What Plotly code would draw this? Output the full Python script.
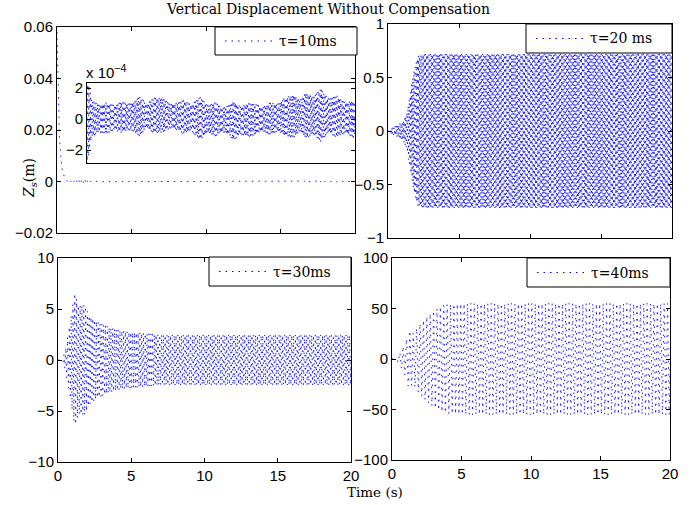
import numpy as np
import plotly.graph_objects as go

W, H = 694, 505

# ---------------- data ----------------
t_end = 20.0
dt = 0.004

# tau = 10 ms : initial decay of Zs (m)
decay10_t = [0.0, 0.05, 0.10, 0.15, 0.20, 0.30, 0.40, 0.50, 0.70, 1.0]
decay10_z = [0.058, 0.040, 0.028, 0.019, 0.013, 0.006, 0.003, 0.0012, 0.0002, 0.0]
# tau = 10 ms : residual oscillation envelope (m)
env10_t = [0.0, 1.9, 2.0, 2.3, 2.8, 3.3, 3.8, 4.3, 4.8, 5.2, 5.5, 6.0, 6.5, 7.1, 7.6, 8.1,
           8.5, 9.0, 9.6, 10.1, 10.6, 11.1, 11.6, 11.8, 12.3, 12.8, 13.3, 13.8, 14.3, 14.8,
           15.3, 15.9, 16.3, 16.7, 17.2, 17.7, 18.2, 18.8, 19.3, 19.9, 20.0]
env10_a = [0.0, 4.0e-4, 3.0e-4, 1.2e-4, 0.9e-4, 1.0e-4, 0.8e-4, 1.0e-4, 0.85e-4, 1.0e-4, 1.3e-4,
           0.8e-4, 1.15e-4, 1.1e-4, 0.8e-4, 0.9e-4, 1.1e-4, 0.85e-4, 1.4e-4, 0.9e-4, 1.1e-4,
           0.8e-4, 1.0e-4, 1.3e-4, 0.9e-4, 1.1e-4, 1.0e-4, 0.8e-4, 1.05e-4, 0.9e-4, 1.25e-4,
           1.4e-4, 1.0e-4, 1.5e-4, 1.2e-4, 1.7e-4, 1.1e-4, 1.35e-4, 1.0e-4, 1.2e-4, 1.0e-4]
off10_t = [0.0, 2.0, 5.0, 7.0, 10.0, 12.0, 14.0, 16.0, 18.0, 20.0]
off10_z = [0.0, 0.0, 0.15e-4, 0.25e-4, 0.0, -0.1e-4, 0.0, 0.2e-4, 0.25e-4, 0.0]
freq10 = 12.3

# tau = 20 ms : oscillation envelope (m)
env20_t = [0.0, 0.3, 1.0, 1.3, 1.5, 1.8, 2.1, 2.5, 20.0]
env20_a = [0.0, 0.03, 0.08, 0.15, 0.30, 0.55, 0.70, 0.72, 0.72]
freq20 = 12.2

# tau = 30 ms : oscillation envelope (m)
env30_t = [0.0, 0.3, 0.5, 0.8, 1.15, 1.4, 1.85, 2.1, 2.7, 3.5, 4.5, 6.0, 7.0, 20.0]
env30_a = [0.0, 0.0, 1.0, 3.5, 6.6, 5.3, 5.4, 4.4, 3.7, 3.2, 2.8, 2.6, 2.45, 2.45]
freq30 = 8.1

# tau = 40 ms : oscillation envelope (m)
env40_t = [0.0, 0.3, 0.5, 1.0, 1.2, 1.5, 2.0, 2.5, 3.0, 3.5, 4.0, 5.0, 20.0]
env40_a = [0.0, 0.0, 5.0, 18.0, 29.0, 25.0, 35.0, 42.0, 48.0, 52.0, 54.0, 55.0, 55.0]
freq40 = 4.1

legend_labels = ["\u03c4=10ms", "\u03c4=20 ms", "\u03c4=30ms", "\u03c4=40ms"]

# ---------------- build series ----------------
t = np.arange(0.0, t_end + dt / 2, dt)
z10 = (np.interp(t, decay10_t, decay10_z) + np.interp(t, off10_t, off10_z)
       + np.interp(t, env10_t, env10_a) * np.sin(2 * np.pi * freq10 * t))
z20 = np.interp(t, env20_t, env20_a) * np.sin(2 * np.pi * freq20 * t)
z30 = np.interp(t, env30_t, env30_a) * np.sin(2 * np.pi * freq30 * t)
z40 = np.interp(t, env40_t, env40_a) * np.sin(2 * np.pi * freq40 * t)


def dom_x(a, b):
    return [a / W, b / W]


def dom_y(top, bot):
    return [1 - bot / H, 1 - top / H]


# panel pixel boxes (left, right, top, bottom)
boxes = {
    1: (57, 355, 27, 233),
    2: (388, 672, 24, 238),
    3: (58, 351, 258, 462),
    4: (392, 670, 258, 460),
    5: (87, 355, 83, 163),
}

BLUE = "#0000ff"
DASH = "1.5px,5px"
line_style = dict(color=BLUE, width=0.9, dash=DASH)

fig = go.Figure()
series = {1: z10, 2: z20, 3: z30, 4: z40, 5: z10}
for k in [1, 2, 3, 4, 5]:
    suffix = "" if k == 1 else str(k)
    fig.add_trace(go.Scatter(x=t, y=series[k], mode="lines", line=line_style,
                             xaxis="x" + suffix, yaxis="y" + suffix,
                             showlegend=False, hoverinfo="skip"))

tickfont = dict(family="Liberation Sans, Arial, sans-serif", size=15, color="black")
common = dict(showline=True, linecolor="black", linewidth=1, mirror="ticks",
              ticks="inside", ticklen=4, tickcolor="black", showgrid=False,
              zeroline=False, tickfont=tickfont, automargin=False)

yranges = {1: [-0.02, 0.06], 2: [-1, 1], 3: [-10, 10], 4: [-100, 100], 5: [-2.84e-4, 2.33e-4]}
ydt = {1: 0.02, 2: 0.5, 3: 5, 4: 50}
layout = {}
for k in [1, 2, 3, 4, 5]:
    l, r, tp, bt = boxes[k]
    sx = "xaxis" if k == 1 else "xaxis" + str(k)
    sy = "yaxis" if k == 1 else "yaxis" + str(k)
    anchor_x = "y" if k == 1 else "y" + str(k)
    anchor_y = "x" if k == 1 else "x" + str(k)
    if k == 5:
        layout[sx] = dict(common, domain=dom_x(l, r), anchor=anchor_x, range=[2, 20],
                          showticklabels=False, ticks="", tickvals=[])
        layout[sy] = dict(common, domain=dom_y(tp, bt), anchor=anchor_y, range=yranges[k],
                          tickvals=[-2e-4, 0, 2e-4], ticktext=["\u22122", "0", "2"])
    else:
        layout[sx] = dict(common, domain=dom_x(l, r), anchor=anchor_x, range=[0, 20],
                          tickmode="linear", tick0=0, dtick=5, showticklabels=k in (3, 4))
        layout[sy] = dict(common, domain=dom_y(tp, bt), anchor=anchor_y, range=yranges[k],
                          tickmode="linear", tick0=0, dtick=ydt[k])

serif = "DejaVu Serif, serif"
shapes = []
annotations = []
# legend boxes (pixel coords): left, right, top, bottom
leg_boxes = {1: (215, 357, 27, 55), 2: (526, 672, 24, 53), 3: (209, 351, 257, 286), 4: (527, 670, 258, 287)}
for k, (l, r, tp, bt) in leg_boxes.items():
    shapes.append(dict(type="rect", xref="paper", yref="paper", x0=l / W, x1=r / W,
                       y0=1 - bt / H, y1=1 - tp / H, fillcolor="white",
                       line=dict(color="black", width=1), layer="above"))
    ym = 1 - (tp + bt) / 2 / H
    shapes.append(dict(type="line", xref="paper", yref="paper", x0=(l + 10) / W, x1=(l + 60) / W,
                       y0=ym, y1=ym, line=dict(color=BLUE, width=1, dash=DASH), layer="above"))
    annotations.append(dict(xref="paper", yref="paper", x=(l + 62) / W, y=ym, xanchor="left",
                            yanchor="middle", showarrow=False, text=legend_labels[k - 1],
                            font=dict(family=serif, size=14, color="black")))

annotations += [
    dict(xref="paper", yref="paper", x=328 / W, y=1 - 9 / H, xanchor="center", yanchor="middle",
         showarrow=False, text="Vertical Displacement Without Compensation",
         font=dict(family=serif, size=14, color="black")),
    dict(xref="paper", yref="paper", x=30 / W, y=1 - 178 / H, xanchor="center", yanchor="middle",
         showarrow=False, textangle=-90, text="<i>Z</i><sub><i>s</i></sub>(m)",
         font=dict(family=serif, size=14, color="black")),
    dict(xref="paper", yref="paper", x=375 / W, y=1 - 492 / H, xanchor="center", yanchor="middle",
         showarrow=False, text="Time (s)", font=dict(family=serif, size=13.5, color="black")),
    dict(xref="paper", yref="paper", x=84 / W, y=1 - 71 / H, xanchor="left", yanchor="middle",
         showarrow=False, text="x 10<sup>\u22124</sup>", font=tickfont),
]

fig.update_layout(width=W, height=H, margin=dict(l=0, r=0, t=0, b=0, autoexpand=False),
                  paper_bgcolor="white", plot_bgcolor="white",
                  shapes=shapes, annotations=annotations, **layout)
fig.write_html("out.html", config={"displayModeBar": False},
               post_script="document.body.style.margin='0';document.body.style.padding='0';")
